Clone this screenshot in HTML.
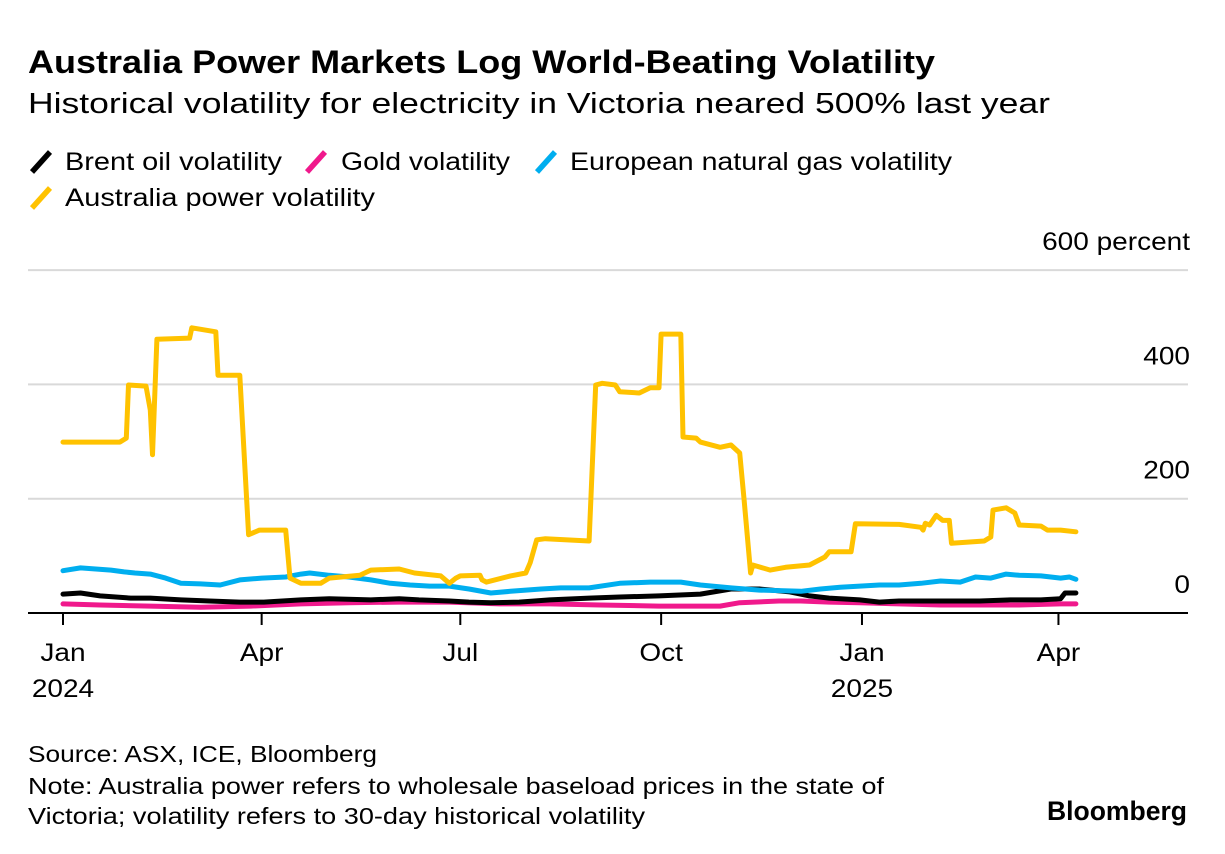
<!DOCTYPE html>
<html><head><meta charset="utf-8">
<style>
body{margin:0;background:#fff;width:1225px;height:854px;overflow:hidden;font-family:"Liberation Sans",sans-serif;color:#000}
svg{position:absolute;left:0;top:0}
</style></head>
<body>
<svg width="1225" height="854" id="chart">
<text x="28" y="73" font-size="32" font-weight="bold" textLength="907" lengthAdjust="spacingAndGlyphs">Australia Power Markets Log World-Beating Volatility</text>
<text x="28" y="113" font-size="29" textLength="1022" lengthAdjust="spacingAndGlyphs">Historical volatility for electricity in Victoria neared 500% last year</text>
<g font-size="25">
<g><line x1="32" y1="172" x2="50" y2="152" stroke="#000" stroke-width="5.5"/><text x="65" y="170" textLength="217" lengthAdjust="spacingAndGlyphs">Brent oil volatility</text></g>
<g><line x1="307" y1="172" x2="325" y2="152" stroke="#f0198c" stroke-width="5.5"/><text x="341" y="170" textLength="169" lengthAdjust="spacingAndGlyphs">Gold volatility</text></g>
<g><line x1="537" y1="172" x2="555" y2="152" stroke="#00aeef" stroke-width="5.5"/><text x="570" y="170" textLength="382" lengthAdjust="spacingAndGlyphs">European natural gas volatility</text></g>
<g><line x1="32" y1="208" x2="50" y2="188" stroke="#ffc200" stroke-width="5.5"/><text x="65" y="206" textLength="310" lengthAdjust="spacingAndGlyphs">Australia power volatility</text></g>
</g>
<g id="grid"></g>
<g id="ylabels" font-size="25" text-anchor="end"></g>
<g id="series"></g>
<g id="xaxis" font-size="25" text-anchor="middle"></g>
<g font-size="23">
<text x="28" y="762" textLength="349" lengthAdjust="spacingAndGlyphs">Source: ASX, ICE, Bloomberg</text>
<text x="28" y="794" textLength="856" lengthAdjust="spacingAndGlyphs">Note: Australia power refers to wholesale baseload prices in the state of</text>
<text x="28" y="824" textLength="617" lengthAdjust="spacingAndGlyphs">Victoria; volatility refers to 30-day historical volatility</text>
</g>
<text x="1047" y="820" font-size="27" font-weight="bold" textLength="140" lengthAdjust="spacingAndGlyphs">Bloomberg</text>
</svg>
<script>
// days since 2024-01-01
const yTicks=[0,200,400,600];
const yTickLabels=["0","200","400","600 percent"];
const xTickDays=[0,91,182,274,366,456];
const xTickMonths=["Jan","Apr","Jul","Oct","Jan","Apr"];
const xTickYears=["2024","","","","2025",""];

const powerDays=[0,26,29,30,38,40,41,43,58,59,70,71,81,85,90,102,104,109,118,122,136,141,154,161,173,177,180,182,191,192,194,205,212,214,217,221,241,244,247,253,255,264,269,273,274,283,284,290,292,301,306,310,312,315,316,324,331,342,349,351,361,363,383,393,394,395,397,400,403,406,407,422,425,426,432,436,438,448,451,457,464];
const powerVals=[299,299,306,399,397,355,277,479,481,499,492,416,416,137,145,145,61,52,52,61,66,75,77,70,65,52,61,65,66,58,54,65,70,88,128,130,126,399,402,399,387,385,394,394,488,488,308,306,299,290,294,280,198,70,84,75,80,84,98,107,107,156,155,150,145,157,154,171,162,162,122,126,133,180,184,175,154,152,145,145,142];

const gasDays=[0,8,22,28,33,40,47,54,63,72,81,91,102,109,113,122,131,141,150,159,168,177,186,196,205,219,228,241,255,269,283,292,306,319,338,347,356,365,374,383,393,402,411,418,425,432,438,448,457,461,464];
const gasVals=[74,79,75,72,70,68,61,52,51,49,58,61,63,68,70,66,63,58,52,49,47,47,42,35,38,42,44,44,52,54,54,49,44,40,38,42,45,47,49,49,52,56,54,63,61,68,66,65,61,63,59];

const brentDays=[0,8,17,31,40,54,67,81,92,109,122,141,154,163,177,186,196,209,223,241,255,273,292,306,319,333,342,351,365,374,383,402,420,434,448,457,459,464];
const brentVals=[33,35,30,26,26,23,21,19,19,23,25,23,25,23,21,19,18,19,23,26,28,30,33,42,42,37,30,26,23,19,21,21,21,23,23,25,35,35];

const goldDays=[0,17,40,63,86,109,131,154,177,200,223,246,273,301,310,328,338,351,365,383,402,420,438,457,464];
const goldVals=[16,14,12,10,12,16,18,19,19,16,16,14,12,12,18,21,21,19,18,16,14,14,14,16,16];

const X0=63,PXD=2.183,Y0=613,PXV=0.5715;
const xs=d=>X0+d*PXD, ys=v=>Y0-v*PXV;
const NS="http://www.w3.org/2000/svg";
function mk(tag,attrs,parent){const e=document.createElementNS(NS,tag);for(const k in attrs)e.setAttribute(k,attrs[k]);parent.appendChild(e);return e;}
function widen(t,f){const w=t.getComputedTextLength();t.setAttribute('textLength',(w*f).toFixed(1));t.setAttribute('lengthAdjust','spacingAndGlyphs');}
const grid=document.getElementById('grid'),yl=document.getElementById('ylabels'),ser=document.getElementById('series'),xa=document.getElementById('xaxis');
yTicks.forEach((v,i)=>{
  if(v>0){const l=mk('line',{x1:28,x2:1188,y1:ys(v),y2:ys(v),stroke:'#d9d9d9','stroke-width':2},grid);
  
  }
  const t=mk('text',{x:1190,y:ys(v)-20},yl);t.textContent=yTickLabels[i];
  
  
  widen(t,1.12);
});
function line(days,vals,color,name){
  const d=days.map((x,i)=>(i?'L':'M')+xs(x).toFixed(1)+','+ys(vals[i]).toFixed(1)).join('');
  const p=mk('path',{d:d,fill:'none',stroke:color,'stroke-width':5,'stroke-linejoin':'round','stroke-linecap':'round'},ser);
  
  
}
line(goldDays,goldVals,'#f0198c','gold-volatility-line');
line(brentDays,brentVals,'#000','brent-oil-volatility-line');
line(gasDays,gasVals,'#00aeef','european-gas-volatility-line');
line(powerDays,powerVals,'#ffc200','australia-power-volatility-line');
const ax=mk('line',{x1:28,x2:1188,y1:Y0,y2:Y0,stroke:'#000','stroke-width':2},xa);


xTickDays.forEach((d,i)=>{
  const tk=mk('line',{x1:xs(d),x2:xs(d),y1:Y0,y2:Y0+12,stroke:'#000','stroke-width':2},xa);
  
  
  const t=mk('text',{x:xs(d),y:661},xa);t.textContent=xTickMonths[i];
  
  
  widen(t,1.12);
  if(xTickYears[i]){const y=mk('text',{x:xs(d),y:697},xa);y.textContent=xTickYears[i];
  
  
  widen(y,1.12);}
});
</script>
</body></html>
